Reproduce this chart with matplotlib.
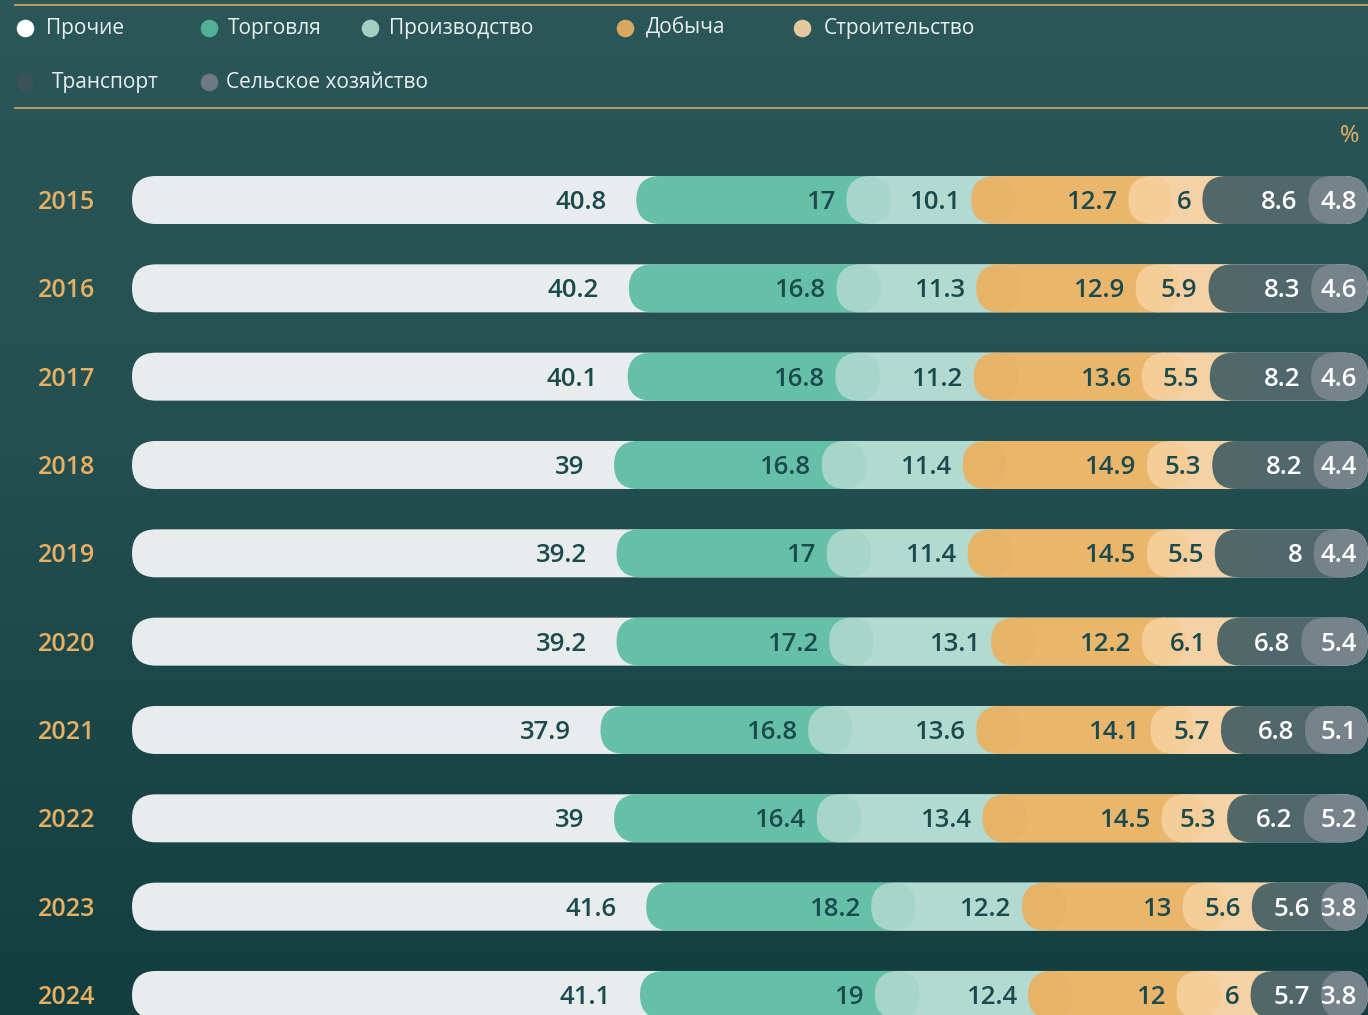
import matplotlib
matplotlib.use("Agg")
import matplotlib.pyplot as plt
import matplotlib.transforms as mtransforms
from matplotlib.patches import FancyBboxPatch
import numpy as np

# ---------------- data ----------------
years = ["2015", "2016", "2017", "2018", "2019", "2020", "2021", "2022", "2023", "2024"]
sectors = ["Прочие", "Торговля", "Производство", "Добыча", "Строительство",
           "Транспорт", "Сельское хозяйство"]
prochie      = [40.8, 40.2, 40.1, 39.0, 39.2, 39.2, 37.9, 39.0, 41.6, 41.1]
torgovlya    = [17.0, 16.8, 16.8, 16.8, 17.0, 17.2, 16.8, 16.4, 18.2, 19.0]
proizvodstvo = [10.1, 11.3, 11.2, 11.4, 11.4, 13.1, 13.6, 13.4, 12.2, 12.4]
dobycha      = [12.7, 12.9, 13.6, 14.9, 14.5, 12.2, 14.1, 14.5, 13.0, 12.0]
stroitelstvo = [6.0, 5.9, 5.5, 5.3, 5.5, 6.1, 5.7, 5.3, 5.6, 6.0]
transport    = [8.6, 8.3, 8.2, 8.2, 8.0, 6.8, 6.8, 6.2, 5.6, 5.7]
selskoe      = [4.8, 4.6, 4.6, 4.4, 4.4, 5.4, 5.1, 5.2, 3.8, 3.8]
series = [prochie, torgovlya, proizvodstvo, dobycha, stroitelstvo, transport, selskoe]

# ---------------- style ----------------
bar_colors = ["#e8eced", "#58bba0", "#add9cd", "#ebb05e", "#f6d09e", "#4a6366", "#77838a"]
bar_alpha = [1.0, 0.9, 0.9, 0.9, 0.9, 0.96, 1.0]
legend_colors = ["#ffffff", "#52b096", "#a3cfc3", "#d8a860", "#e3c8a0", "#3b5357", "#6d7b80"]
label_colors = ["#1b4a4d"] * 5 + ["#ffffff", "#ffffff"]
gold = "#e8b063"
line_gold = "#c9a15c"
FONT = ["Open Sans", "DejaVu Sans"]

W, H = 1368, 1015
fig = plt.figure(figsize=(W / 100, H / 100), dpi=100)

# background axes in pixel coordinates
bg = fig.add_axes([0, 0, 1, 1])
bg.set_xlim(0, W)
bg.set_ylim(H, 0)
bg.axis("off")
t = np.linspace(0, 1, 256)
top = np.array([43, 87, 89]) / 255
mid = np.array([36, 79, 80]) / 255
bot = np.array([18, 62, 64]) / 255
grad = np.where(t[:, None] < 0.45,
                top + (mid - top) * (t[:, None] / 0.45),
                mid + (bot - mid) * ((t[:, None] - 0.45) / 0.55))
bg.imshow(grad[:, None, :], extent=[0, W, H, 0], aspect="auto", zorder=0)

# gold rules
bg.plot([15, W], [5, 5], color=line_gold, lw=1.3, zorder=1)
bg.plot([15, W], [108, 108], color=line_gold, lw=1.3, zorder=1)

# legend (manual layout)
legend_pos = [(25, 46, 28), (209, 228, 28), (370, 389, 28), (625, 646, 28),
              (802, 824, 28), (25, 52, 82), (209, 226, 82)]
for name, col, (cx, tx, cy) in zip(sectors, legend_colors, legend_pos):
    bg.scatter([cx], [cy], s=160, color=col, zorder=3, linewidths=0)
    bg.text(tx, cy, name, color="#e9efef", fontsize=15, va="center", ha="left",
            family=FONT, zorder=3)

bg.text(1350, 136, "%", color=gold, fontsize=17, ha="center", va="center", family=FONT)

# main axes: x = percent (0..100 maps to px 132..1368), y = row index
ax = fig.add_axes([132 / W, 0, 1 - 132 / W, 1])
ax.set_facecolor("none")
ax.axis("off")
row_px, first_px = 88.33, 200.0
ax.set_xlim(0, 100)
ax.set_ylim((H - first_px) / row_px, -first_px / row_px)

x_unit = (W - 132) / 100.0
bar_h = 48 / row_px
r_x = 24 / x_unit
aspect = (24 / row_px) / r_x
ext = 3.6
dy = 2.5 / row_px  # small downward nudge for text centring

def pill(x0, x1, yc, color, alpha, z):
    p = FancyBboxPatch((x0, yc - bar_h / 2), x1 - x0, bar_h,
                       boxstyle=f"round,pad=0,rounding_size={r_x}",
                       mutation_aspect=aspect, facecolor=color, edgecolor="none",
                       alpha=alpha, zorder=z, clip_on=False)
    ax.add_patch(p)

n = len(series)
for i, yr in enumerate(years):
    cum = 0.0
    total = sum(s[i] for s in series)
    for k, s in enumerate(series):
        v = s[i]
        start, end = cum, cum + v
        if k == 0:
            pill(0, total, i, bar_colors[0], 1.0, 2)
        else:
            right = end + ext if k < n - 1 else total
            pill(start, right, i, bar_colors[k], bar_alpha[k], 2 + k)
        pad = 2.4 if k == 0 else 0.9
        lbl = f"{v:g}"
        ax.text(end - pad, i + dy, lbl, ha="right", va="center", fontsize=18.5,
                fontweight="semibold", color=label_colors[k], family=FONT, zorder=20)
        cum = end

trans = mtransforms.blended_transform_factory(fig.transFigure, ax.transData)
for i, yr in enumerate(years):
    ax.text(38 / W, i + dy, yr, transform=trans, ha="left", va="center", fontsize=18,
            fontweight="semibold", color=gold, family=FONT, zorder=20)

fig.savefig("out.png", dpi=100)
